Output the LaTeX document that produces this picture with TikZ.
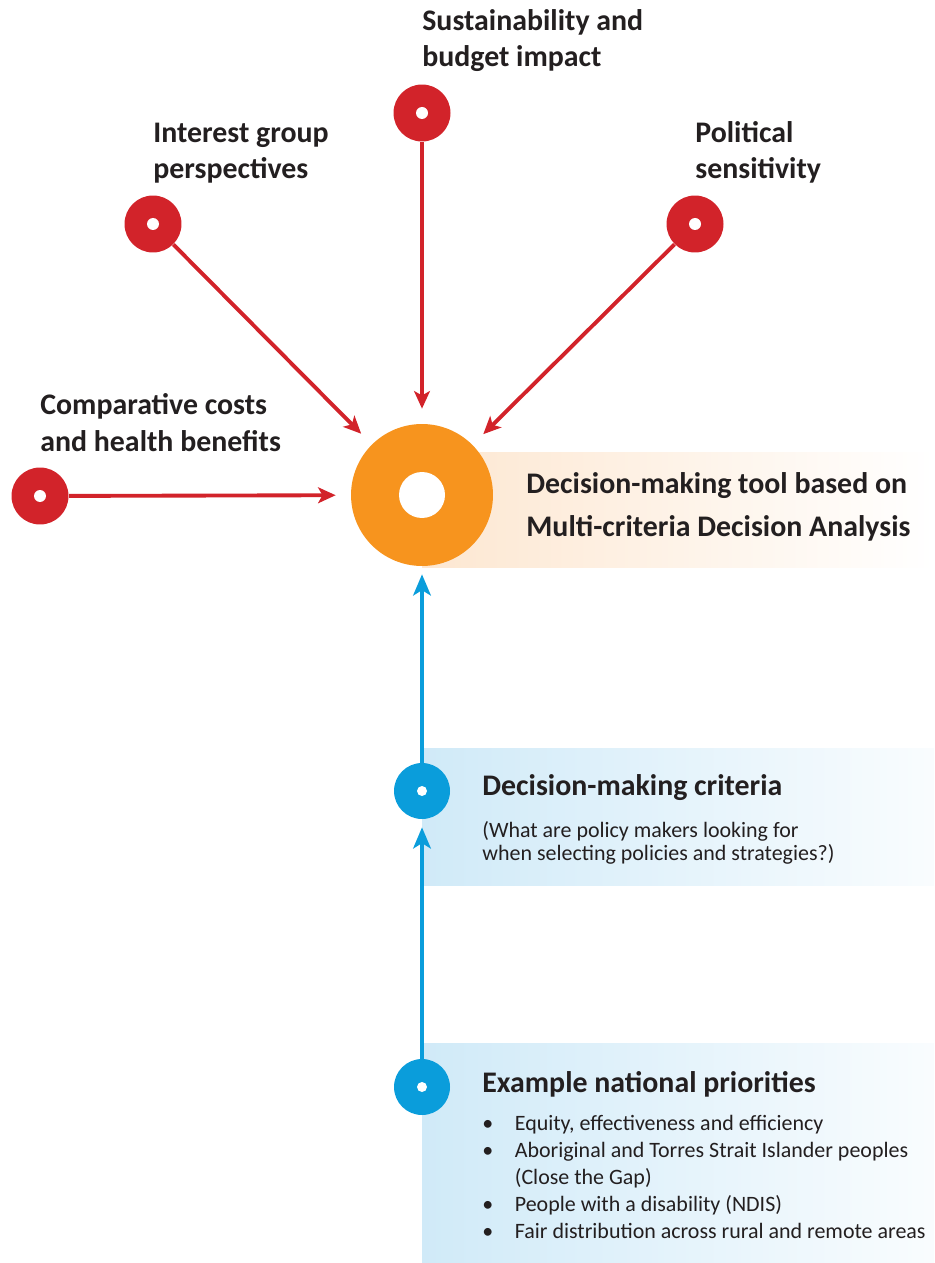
\documentclass[tikz,border=0pt]{standalone}
\usepackage{fontspec}
\setmainfont{Carlito}
\usetikzlibrary{arrows.meta}
\usetikzlibrary{positioning}

\definecolor{mcdaRed}{HTML}{D2232A}
\definecolor{mcdaOrange}{HTML}{F7941E}
\definecolor{mcdaBlue}{HTML}{0A9DDB}
\definecolor{bandOrange}{HTML}{FDE7D1}
\definecolor{boxBlue}{HTML}{D0EAF8}
\definecolor{labelText}{HTML}{231F20}

\tikzset{
  reddot/.style={circle,fill=mcdaRed,minimum size=1.14cm,inner sep=0pt,
    path picture={\fill[white] (path picture bounding box.center) circle (0.12cm);}},
  bluedot/.style={circle,fill=mcdaBlue,minimum size=1.12cm,inner sep=0pt,
    path picture={\fill[white] (path picture bounding box.center) circle (0.1cm);}},
  redarrow/.style={mcdaRed,line width=2.2pt,-{Stealth[length=10pt,width=9pt,inset=2.5pt]},shorten >=0.3cm},
  bluearrow/.style={mcdaBlue,line width=2.2pt,-{Stealth[length=12pt,width=10pt,inset=3pt]},shorten >=0.16cm},
  redlabel/.style={font={\fontsize{17}{20.5}\selectfont\bfseries},text=labelText,align=left,anchor=base west,inner sep=0pt},
  headlabel/.style={font={\fontsize{17}{24}\selectfont\bfseries},text=labelText,align=left,anchor=base west,inner sep=0pt},
  notelabel/.style={font={\fontsize{12.5}{13}\selectfont},text=labelText,align=left,anchor=base west,inner sep=0pt}
}

\begin{document}
\begin{tikzpicture}[x=0.02cm,y=-0.02cm]
\useasboundingbox (0,0) rectangle (934,1263);
\shade[left color=bandOrange,middle color=bandOrange!80!white,right color=white] (422,452) rectangle (934,567);
\shade[left color=boxBlue,right color=boxBlue!12!white] (422,748) rectangle (934,885);
\shade[left color=boxBlue,right color=boxBlue!12!white] (422,1043) rectangle (934,1263);

\node[circle,fill=mcdaOrange,minimum size=2.84cm,inner sep=0pt,
  path picture={\fill[white] (path picture bounding box.center) circle (0.46cm);}] (hub) at (422,495) {};
\node[reddot] (sust) at (422,113) {};
\node[reddot] (interest) at (153,224) {};
\node[reddot] (politic) at (695,224) {};
\node[reddot] (compare) at (40,496) {};
\node[bluedot] (critdot) at (422,791) {};
\node[bluedot] (priodot) at (422,1087) {};

% two-line labels sit on their last baseline
\node[redlabel] at (422,67) {Sustainability and\\budget impact};
\node[redlabel] at (153,179) {Interest group\\perspectives};
\node[redlabel] at (695,179) {Political\\sensitivity};
\node[redlabel] at (40,451) {Comparative costs\\and health benefits};
\node[headlabel] at (526,536) {Decision-making tool based on\\Multi-criteria Decision Analysis};

\node[headlabel] (crit) at (482,795) {Decision-making criteria};
\node[notelabel] (critnote) at (482,860) {(What are policy makers looking for\\when selecting policies and strategies?)};
\node[headlabel] (prio) at (482,1092) {Example national priorities};
\node[notelabel,font={\fontsize{12.5}{15.4}\selectfont}] (prionote) at (482,1130) {\begin{tabular}[t]{@{}p{18.5pt}@{}l@{}}
\textbullet & Equity, effectiveness and efficiency\\
\textbullet & Aboriginal and Torres Strait Islander peoples\\
 & (Close the Gap)\\
\textbullet & People with a disability (NDIS)\\
\textbullet & Fair distribution across rural and remote areas
\end{tabular}};

\draw[redarrow] (sust) -- (hub);
\draw[redarrow] (interest) -- (hub);
\draw[redarrow] (politic) -- (hub);
\draw[redarrow] (compare) -- (hub);
\draw[bluearrow] (critdot) -- (hub);
\draw[bluearrow] (priodot) -- (critdot);

\end{tikzpicture}
\end{document}
